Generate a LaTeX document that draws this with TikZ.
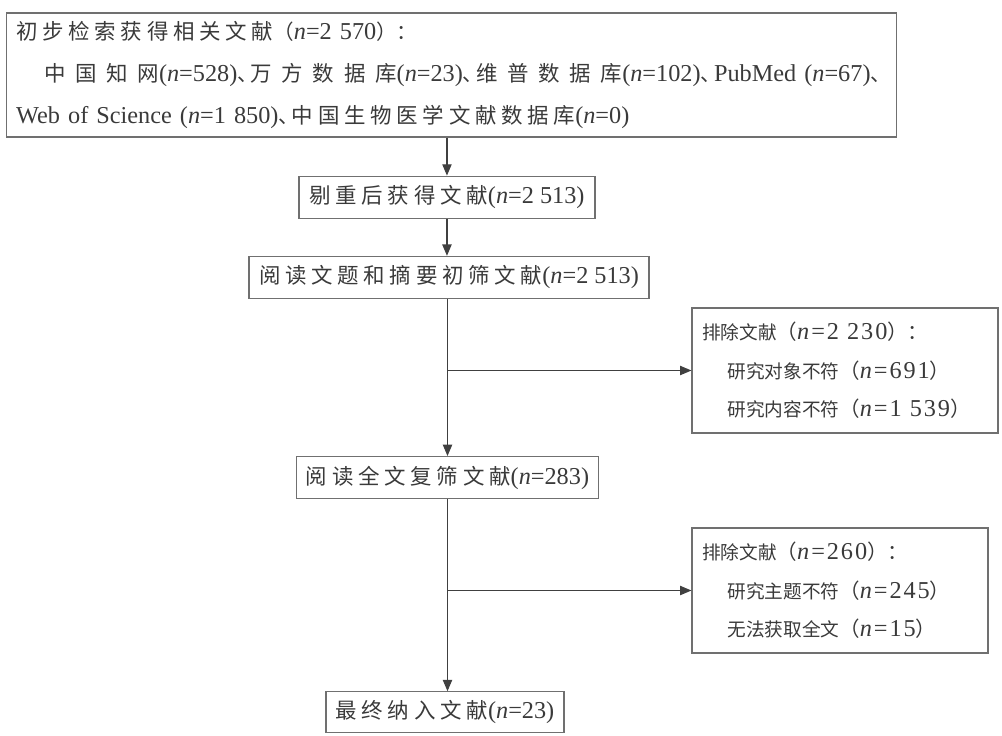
\documentclass[tikz,border=0pt]{standalone}
\usepackage{fontspec}
\setmainfont{Liberation Serif}[Scale=1.3]
\newfontfamily\zh{Noto Sans CJK SC}
\newfontfamily\zhw{Noto Sans CJK SC}[Scale=1.15, LetterSpace=22]
\newfontfamily\zhww{Noto Sans CJK SC}[Scale=1.15, LetterSpace=45]
\newfontfamily\zhp{Noto Sans CJK SC}[Scale=1.1]
\newcommand\dun{\makebox[0.55em][l]{\zhp 、}}
\usepackage{tikz}
\usetikzlibrary{arrows.meta,positioning}
\definecolor{linegray}{HTML}{707070}
\definecolor{arrgray}{HTML}{404040}
\definecolor{txtgray}{HTML}{3A3A3A}

\begin{document}
\begin{tikzpicture}[x=0.75pt, y=-0.75pt,
  font=\fontsize{14pt}{20pt}\selectfont,
  every node/.style={text=txtgray},
  box/.style={draw=linegray, line width=0.9pt, align=center, minimum height=31.5pt, inner sep=0pt},
  listbox/.style={draw=linegray, line width=0.9pt, align=left, inner xsep=7.5pt, inner ysep=0pt},
  arr/.style={-{Triangle[length=8.5pt,width=7pt]}, draw=arrgray, line width=0.8pt}
]
\useasboundingbox (0,0) rectangle (1002,735);
\node[listbox, text width=653pt, minimum height=93pt, font=\fontsize{14pt}{31.5pt}\selectfont] (s0) at (451.5,75)
  {{\zhw 初步检索获得相关文献}{\zhp（}\textit{n}=2 570{\zhp ）：}\\
   \hspace*{21pt}{\zhww 中国知网}(\textit{n}=528)\dun{\zhww 万方数据库}(\textit{n}=23)\dun{\zhww 维普数据库}(\textit{n}=102)\dun PubMed (\textit{n}=67)\dun\\
   Web of Science (\textit{n}=1 850)\dun{\zhw 中国生物医学文献数据库}(\textit{n}=0)};
\node[box, minimum width=222pt] (s1) [below=28.5pt of s0, xshift=-3.4pt] {{\zhw 剔重后获得文献}(\textit{n}=2 513)};
\node[box, minimum width=300pt] (s2) [below=27.75pt of s1, xshift=1.5pt] {{\zhw 阅读文题和摘要初筛文献}(\textit{n}=2 513)};
\node[box, minimum width=227pt] (s3) [below=117.75pt of s2, xshift=-1.1pt] {{\zhw 阅读全文复筛文献}(\textit{n}=283)};
\node[box, minimum width=178.5pt, minimum height=30.75pt] (s4) [below=144pt of s3, xshift=-1.9pt] {{\zhw 最终纳入文献}(\textit{n}=23)};
% exclusions
\node[listbox, text width=214.5pt, minimum height=93.75pt, font=\fontsize{14pt}{29pt}\selectfont\addfontfeature{LetterSpace=8}] (e1) at (845,370.5)
  {{\zh 排除文献}{\zhp（}\textit{n}=2 230{\zhp ）：}\\
   \hspace*{19pt}{\zh 研究对象不符}{\zhp（}\textit{n}=691{\zhp ）}\\
   \hspace*{19pt}{\zh 研究内容不符}{\zhp（}\textit{n}=1 539{\zhp ）}};
\node[listbox, text width=207pt, minimum height=93.75pt, font=\fontsize{14pt}{29pt}\selectfont\addfontfeature{LetterSpace=8}] (e2) at (840,590.5)
  {{\zh 排除文献}{\zhp（}\textit{n}=260{\zhp ）：}\\
   \hspace*{19pt}{\zh 研究主题不符}{\zhp（}\textit{n}=245{\zhp ）}\\
   \hspace*{19pt}{\zh 无法获取全文}{\zhp（}\textit{n}=15{\zhp ）}};
\coordinate (b1) at (s3.north |- e1.west);
\coordinate (b2) at (s3.south |- e2.west);
\draw[arr] (s0.south -| s1.north) -- (s1.north);
\draw[arr] (s1.south) -- (s1.south |- s2.north);
\draw[arr] (s2.south -| s3.north) -- (s3.north);
\draw[arr] (b1) -- (e1.west);
\draw[arr] (s3.south) -- (s3.south |- s4.north);
\draw[arr] (b2) -- (e2.west);
\end{tikzpicture}
\end{document}
